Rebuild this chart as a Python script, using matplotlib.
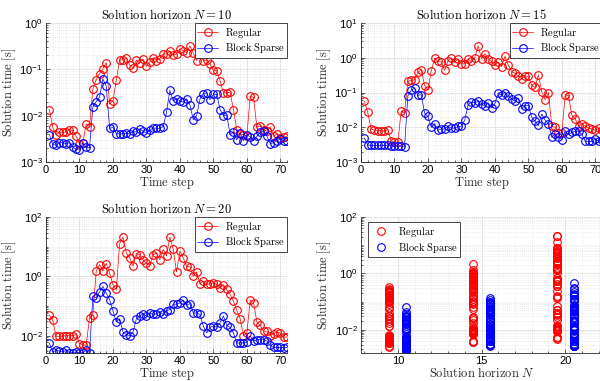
import matplotlib
matplotlib.use("Agg")
import matplotlib.pyplot as plt
from matplotlib.ticker import LogLocator, AutoMinorLocator, NullFormatter
import numpy as np

plt.rcParams['font.family'] = ['Liberation Sans', 'DejaVu Sans']
plt.rcParams['mathtext.fontset'] = 'dejavusans'

steps = np.arange(1, 73)

# ---- N = 10 ----
reg10 = [0.0135, 0.0057, 0.0039, 0.0044, 0.0044, 0.0044, 0.0050, 0.0048, 0.0036, 0.0025,
         0.0026, 0.0066, 0.0058, 0.038, 0.060, 0.081, 0.103, 0.140, 0.018, 0.021,
         0.058, 0.160, 0.160, 0.175, 0.124, 0.108, 0.157, 0.137, 0.167, 0.116,
         0.144, 0.178, 0.154, 0.170, 0.214, 0.214, 0.245, 0.207, 0.214, 0.275,
         0.250, 0.230, 0.320, 0.225, 0.154, 0.225, 0.154, 0.157, 0.130, 0.095,
         0.094, 0.057, 0.031, 0.031, 0.032, 0.0135, 0.0050, 0.0040, 0.0039, 0.0036,
         0.026, 0.025, 0.0056, 0.0060, 0.0050, 0.0046, 0.0057, 0.0036, 0.0041, 0.0033,
         0.0034, 0.0036]
bsp10 = [0.0039, 0.0024, 0.0023, 0.0026, 0.0026, 0.0025, 0.0026, 0.0021, 0.0019, 0.0018,
         0.0026, 0.0021, 0.0020, 0.0154, 0.020, 0.025, 0.062, 0.043, 0.0053, 0.0056,
         0.0041, 0.0040, 0.0041, 0.0042, 0.0040, 0.0046, 0.0044, 0.0052, 0.0046, 0.0042,
         0.0048, 0.0054, 0.0054, 0.0053, 0.0058, 0.0118, 0.035, 0.021, 0.023, 0.021,
         0.0195, 0.023, 0.017, 0.0082, 0.010, 0.023, 0.030, 0.031, 0.022, 0.029,
         0.029, 0.0135, 0.010, 0.0104, 0.0039, 0.0044, 0.0030, 0.0042, 0.0029, 0.0039,
         0.0035, 0.0029, 0.0036, 0.0044, 0.0046, 0.0036, 0.0025, 0.0026, 0.0029, 0.0031,
         0.0029, 0.0028]

# ---- N = 15 ----
reg15 = [0.056, 0.027, 0.0091, 0.0082, 0.0080, 0.0080, 0.0077, 0.0085, 0.0041, 0.0037,
         0.0037, 0.029, 0.026, 0.21, 0.23, 0.23, 0.38, 0.45, 0.158, 0.12,
         0.42, 0.98, 0.78, 0.75, 0.43, 0.82, 1.0, 0.74, 0.92, 0.66,
         0.67, 0.92, 0.78, 1.0, 2.2, 0.93, 1.3, 0.95, 0.78, 0.60,
         0.75, 0.56, 1.1, 0.62, 0.40, 0.36, 0.29, 0.25, 0.30, 0.29,
         0.16, 0.14, 0.32, 0.105, 0.062, 0.098, 0.0106, 0.010, 0.0070, 0.0068,
         0.087, 0.081, 0.022, 0.0175, 0.0106, 0.0126, 0.0106, 0.0094, 0.0089, 0.0082,
         0.0094, 0.0085]
bsp15 = [0.0049, 0.0031, 0.0030, 0.0030, 0.0030, 0.0030, 0.0030, 0.0030, 0.0029, 0.0029,
         0.0029, 0.0029, 0.0027, 0.081, 0.116, 0.135, 0.083, 0.087, 0.0255, 0.0205,
         0.0099, 0.0126, 0.0082, 0.0090, 0.0089, 0.0106, 0.0094, 0.0094, 0.0106, 0.0106,
         0.016, 0.045, 0.052, 0.050, 0.056, 0.048, 0.040, 0.050, 0.036, 0.048,
         0.098, 0.083, 0.100, 0.081, 0.065, 0.056, 0.069, 0.034, 0.042, 0.042,
         0.0195, 0.0148, 0.0113, 0.024, 0.016, 0.0126, 0.0052, 0.0064, 0.0052, 0.0044,
         0.0077, 0.0062, 0.0071, 0.0077, 0.0077, 0.0062, 0.0039, 0.0039, 0.0039, 0.0046,
         0.0039, 0.0044]

# ---- N = 20 ----
reg20 = [0.049, 0.033, 0.0095, 0.0095, 0.0097, 0.010, 0.010, 0.010, 0.011, 0.0054,
         0.0050, 0.0047, 0.040, 0.049, 1.5, 2.5, 1.5, 2.7, 1.3, 0.52,
         0.36, 12.6, 21.0, 6.1, 4.2, 2.2, 5.8, 5.3, 3.5, 2.8,
         2.3, 5.3, 6.1, 3.6, 8.1, 4.9, 21.0, 8.1, 1.4, 7.1,
         4.2, 2.2, 2.1, 1.0, 1.4, 0.57, 0.70, 0.54, 0.57, 0.60,
         0.54, 0.41, 0.52, 0.36, 0.245, 0.144, 0.071, 0.037, 0.0101, 0.012,
         0.155, 0.13, 0.029, 0.022, 0.0141, 0.0141, 0.010, 0.0117, 0.0134, 0.0122,
         0.0088, 0.0090]
bsp20 = [0.0056, 0.0028, 0.0032, 0.0030, 0.0028, 0.0032, 0.0027, 0.0027, 0.0028, 0.0027,
         0.0027, 0.0032, 0.0027, 0.21, 0.19, 0.30, 0.46, 0.27, 0.165, 0.068,
         0.029, 0.037, 0.0131, 0.0109, 0.0101, 0.0131, 0.037, 0.045, 0.055, 0.045,
         0.058, 0.052, 0.055, 0.063, 0.052, 0.068, 0.076, 0.115, 0.115, 0.127,
         0.155, 0.105, 0.12, 0.058, 0.058, 0.052, 0.021, 0.0124, 0.019, 0.021,
         0.0195, 0.027, 0.046, 0.0225, 0.019, 0.0124, 0.0056, 0.0057, 0.0057, 0.0060,
         0.0098, 0.0065, 0.0073, 0.0073, 0.0073, 0.0065, 0.0047, 0.0040, 0.0040, 0.0040,
         0.0039, 0.0040]

horizons = [10, 15, 20]
regular = [reg10, reg15, reg20]
sparse = [bsp10, bsp15, bsp20]

RED = (1, 0, 0)
BLUE = (0, 0, 1)
AXC = '0.15'

fig = plt.figure(figsize=(6, 3.81), dpi=100)
W, H = 600, 381


def make_ax(l, t, r, b):
    return fig.add_axes([l / W, 1 - b / H, (r - l) / W, (b - t) / H])


def style(ax, ylims, major):
    ax.set_yscale('log')
    ax.set_ylim(*ylims)
    ax.yaxis.set_major_locator(plt.FixedLocator(major))
    ax.yaxis.set_minor_locator(LogLocator(base=10, subs=np.arange(1, 10), numticks=30))
    ax.yaxis.set_minor_formatter(NullFormatter())
    ax.xaxis.set_minor_locator(AutoMinorLocator(5))
    ax.grid(True, which='major', color='0.86', lw=0.5, ls='-')
    ax.grid(True, which='minor', color='0.86', lw=0.5, ls=(0, (1, 2)))
    ax.set_axisbelow(True)
    for s in ['top', 'right']:
        ax.spines[s].set_visible(False)
    for s in ['left', 'bottom']:
        ax.spines[s].set_color(AXC)
        ax.spines[s].set_linewidth(0.6)
    ax.tick_params(which='both', direction='in', colors=AXC, labelcolor='black',
                   labelsize=8, width=0.5, pad=2.5)
    ax.tick_params(which='major', length=3)
    ax.tick_params(which='minor', length=1.5)


def cm_text(t):
    t.set_math_fontfamily('cm')
    return t


def labels(ax, title, xlabel):
    if title:
        cm_text(ax.set_title(title, fontsize=9, pad=3))
    cm_text(ax.set_xlabel(xlabel, fontsize=9, color=AXC, labelpad=0))
    cm_text(ax.set_ylabel(r'$\mathrm{Solution\ time\ [s]}$', fontsize=9, color=AXC, labelpad=1))


def add_legend(ax, **kw):
    leg = ax.legend(fontsize=7.5, frameon=True, fancybox=False, edgecolor=AXC,
                    borderaxespad=0.0, handlelength=2.0, borderpad=0.25,
                    labelspacing=0.15, handletextpad=0.6, framealpha=1, **kw)
    leg.get_frame().set_linewidth(0.6)
    for t in leg.get_texts():
        cm_text(t)
    return leg


boxes = [(46, 23, 287, 162), (361, 23, 602, 162), (46, 217, 287, 353)]
ylims = [(1e-3, 1), (1e-3, 10), (2.6e-3, 100)]
majors = [[1e-3, 1e-2, 1e-1, 1], [1e-3, 1e-2, 1e-1, 1, 10], [1e-2, 1, 100]]

for k in range(3):
    ax = make_ax(*boxes[k])
    ax.plot(steps, regular[k], '-o', color=RED, lw=0.5, ms=5.5, mfc='none', mew=0.8,
            label=r'$\mathrm{Regular}$')
    ax.plot(steps, sparse[k], '-o', color=BLUE, lw=0.5, ms=5.5, mfc='none', mew=0.8,
            label=r'$\mathrm{Block\ Sparse}$')
    ax.set_xlim(0, 72)
    ax.set_xticks([0, 10, 20, 30, 40, 50, 60, 70])
    style(ax, ylims[k], majors[k])
    labels(ax, r'$\mathrm{Solution\ horizon}\ N = %d$' % horizons[k], r'$\mathrm{Time\ step}$')
    add_legend(ax, loc='upper right')

# ---- summary panel ----
ax = make_ax(361, 217, 602, 353)
for k, n in enumerate(horizons):
    ax.plot(np.full(len(regular[k]), n - 0.5), regular[k], 'o', color=RED, ms=5.5,
            mfc='none', mew=0.8, label=r'$\mathrm{Regular}$' if k == 0 else None)
    ax.plot(np.full(len(sparse[k]), n + 0.5), sparse[k], 'o', color=BLUE, ms=5.5,
            mfc='none', mew=0.8, label=r'$\mathrm{Block\ Sparse}$' if k == 0 else None)
ax.set_xlim(7.8, 22.2)
ax.set_xticks([10, 15, 20])
style(ax, (1.5e-3, 100), [1e-2, 1, 100])
labels(ax, None, r'$\mathrm{Solution\ horizon}\ N$')
add_legend(ax, loc='upper left', bbox_to_anchor=(0.03, 0.96))

fig.savefig('out.png', dpi=100)
